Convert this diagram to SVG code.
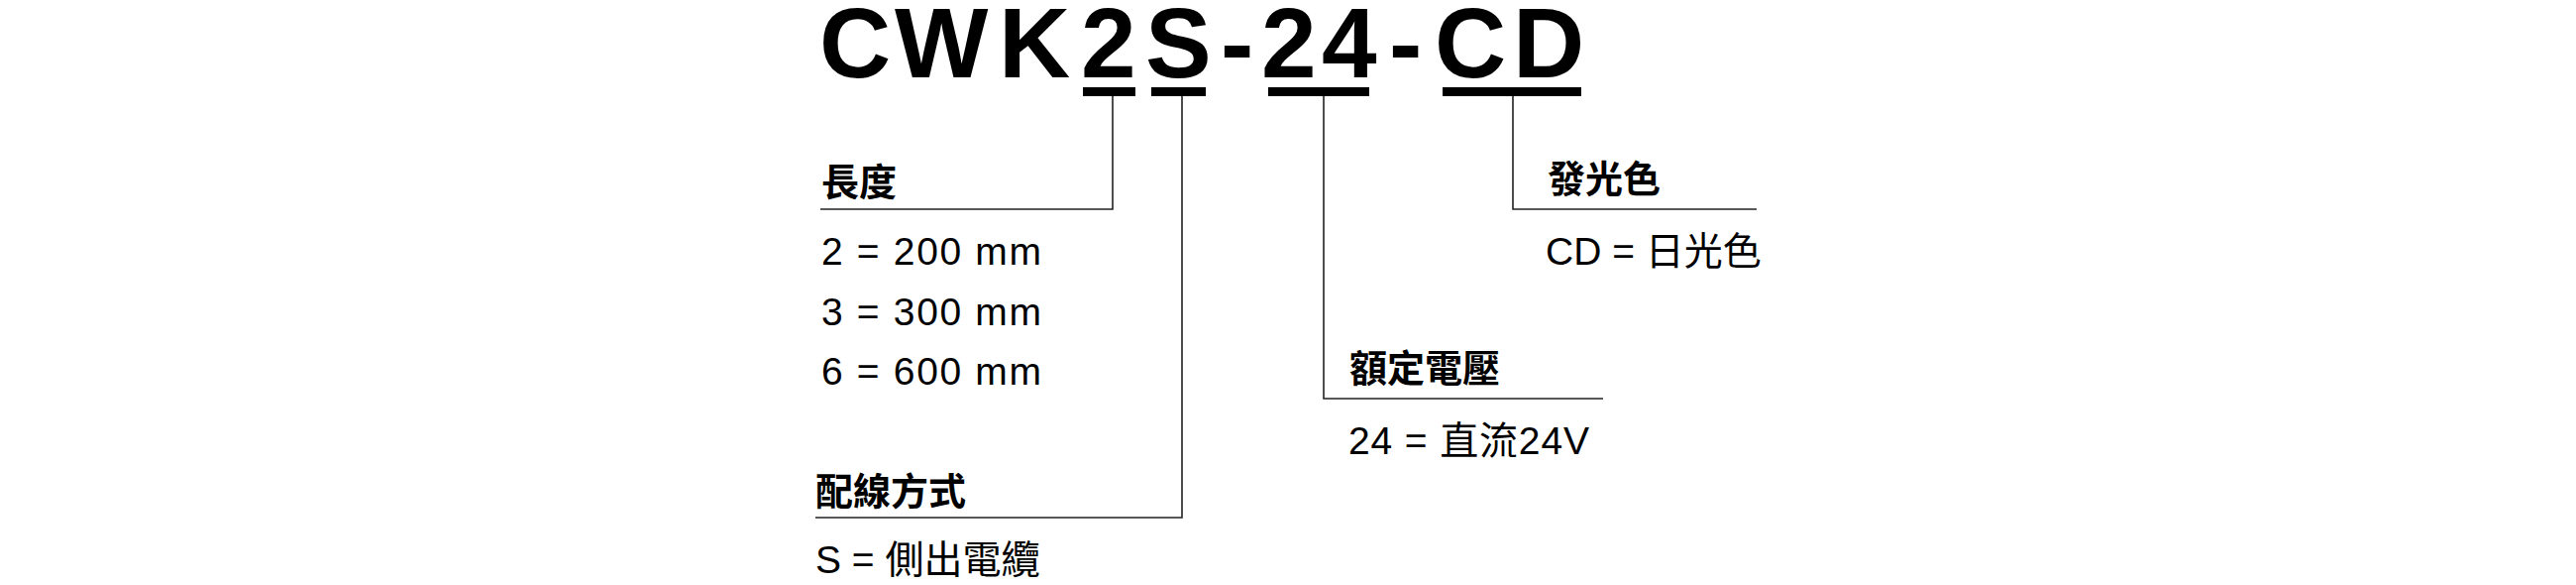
<svg xmlns="http://www.w3.org/2000/svg" width="2600" height="590" viewBox="0 0 2600 590">
  <style>
    .title { font-family: "Liberation Sans", Arial, sans-serif; font-weight: 700; font-size: 100px; fill: #000; }
    .head { font-family: "Noto Sans CJK TC", "Liberation Sans", sans-serif; font-weight: 700; font-size: 38px; fill: #000; }
    .val { font-family: "Liberation Sans", "Noto Sans CJK TC", sans-serif; font-size: 39px; fill: #000; }
    .bar { fill: #000; }
    .conn { fill: none; stroke: #222; stroke-width: 1.6; }
  </style>
  <rect width="2600" height="590" fill="#fff"/>

  <g id="model-code">
    <text class="title" x="827 903 1008 1091 1156 1232 1273 1334 1402 1448 1527" y="78">CWK2S-24-CD</text>
    <rect class="bar" x="1093" y="88" width="53" height="9"/>
    <rect class="bar" x="1162" y="88" width="55" height="9"/>
    <rect class="bar" x="1280" y="88" width="102" height="9"/>
    <rect class="bar" x="1456" y="88" width="140" height="9"/>
  </g>

  <g id="connectors">
    <path class="conn" d="M1123,97 V211 H828"/>
    <path class="conn" d="M1193,97 V522 H823"/>
    <path class="conn" d="M1336,97 V402 H1618"/>
    <path class="conn" d="M1527,97 V211 H1773"/>
  </g>

  <g id="node-length">
    <text class="head" x="829" y="197">長度</text>
    <text class="val" x="829" y="267" textLength="222">2 = 200 mm</text>
    <text class="val" x="829" y="328" textLength="222">3 = 300 mm</text>
    <text class="val" x="829" y="388" textLength="222">6 = 600 mm</text>
  </g>

  <g id="node-wiring">
    <text class="head" x="823" y="509">配線方式</text>
    <text class="val" x="823" y="578">S = 側出電纜</text>
  </g>

  <g id="node-voltage">
    <text class="head" x="1362" y="385">額定電壓</text>
    <text class="val" x="1361" y="458" textLength="243">24 = 直流24V</text>
  </g>

  <g id="node-color">
    <text class="head" x="1562" y="194">發光色</text>
    <text class="val" x="1560" y="267">CD = 日光色</text>
  </g>
</svg>
